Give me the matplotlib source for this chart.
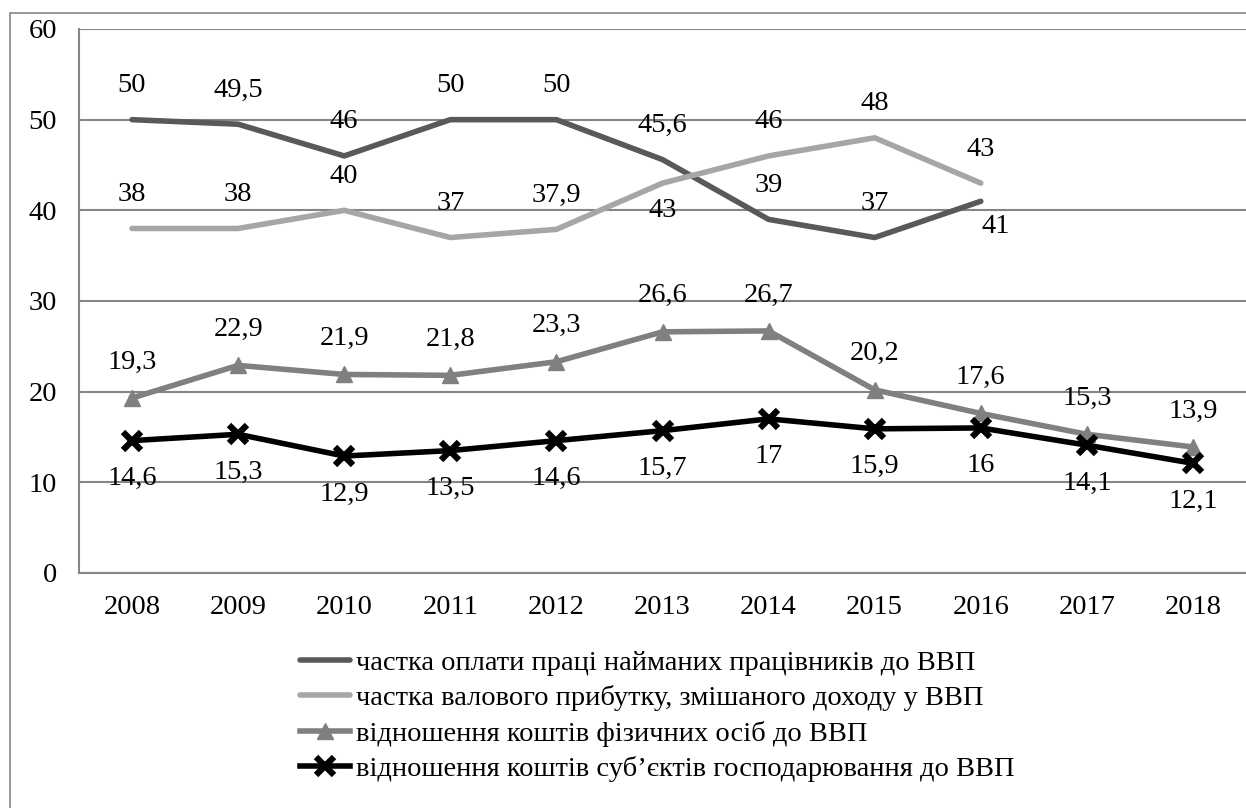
from matplotlib import pyplot as plt
from matplotlib.patches import Rectangle
import numpy as np

plt.rcParams['font.family'] = ['Liberation Serif', 'DejaVu Serif']

years = ['2008', '2009', '2010', '2011', '2012', '2013', '2014', '2015', '2016', '2017', '2018']
wages = [50, 49.5, 46, 50, 50, 45.6, 39, 37, 41]
profit = [38, 38, 40, 37, 37.9, 43, 46, 48, 43]
persons = [19.3, 22.9, 21.9, 21.8, 23.3, 26.6, 26.7, 20.2, 17.6, 15.3, 13.9]
business = [14.6, 15.3, 12.9, 13.5, 14.6, 15.7, 17, 15.9, 16, 14.1, 12.1]

names = ['частка оплати праці найманих працівників до ВВП',
         'частка валового прибутку, змішаного доходу у ВВП',
         'відношення коштів фізичних осіб до ВВП',
         'відношення коштів суб’єктів господарювання до ВВП']

# label offsets in pixels (dx, dy)
wages_off = [(0, 34)] * 8 + [(15, -25)]
profit_off = [(0, 34)] * 5 + [(0, -27)] + [(0, 34)] * 3
persons_off = [(0, 36)] * 11
business_off = [(0, -38)] * 11

fig = plt.figure(figsize=(12.46, 8.08), dpi=100)
W, H = 1246, 808
ax = fig.add_axes([79 / W, 1 - 573 / H, (W - 79) / W, (573 - 29) / H])

x = np.arange(len(years))
l1, = ax.plot(x[:len(wages)], wages, color='#595959', lw=4, solid_capstyle='round', zorder=3)
l2, = ax.plot(x[:len(profit)], profit, color='#a6a6a6', lw=4, solid_capstyle='round', zorder=3)
l3, = ax.plot(x, persons, color='#808080', lw=4, marker='^', ms=12, zorder=3)
l4, = ax.plot(x, business, color='black', lw=4, marker='x', ms=13, mew=4.5, zorder=4)

fs = 20.5
for vals, offs in [(wages, wages_off), (profit, profit_off), (persons, persons_off), (business, business_off)]:
    for i, v in enumerate(vals):
        ax.annotate(f"{v:g}".replace('.', ','), (x[i], v), xytext=offs[i], textcoords='offset pixels',
                    ha='center', va='center', fontsize=fs, color='black', zorder=5)

ax.set_xlim(-0.5, len(years) - 0.5)
ax.set_ylim(0, 60)
ax.set_yticks(range(0, 61, 10))
ax.set_xticks(x)
ax.set_xticklabels(years)
ax.tick_params(axis='both', length=0, labelsize=fs)
ax.tick_params(axis='y', pad=16)
ax.tick_params(axis='x', pad=16)
ax.grid(axis='y', color='#868686', lw=1.5)
ax.set_axisbelow(True)
for s in ['top', 'right']:
    ax.spines[s].set_visible(False)
for s in ['left', 'bottom']:
    ax.spines[s].set_color('#868686')
    ax.spines[s].set_linewidth(1.5)

# outer chart frame
fig.patches.append(Rectangle((10 / W, -0.01), 1.0, 1 - 13 / H + 0.01, transform=fig.transFigure,
                             fill=False, edgecolor='#868686', lw=1.2))

fig.legend([l1, l2, l3, l4], names, loc='upper left', bbox_to_anchor=(300 / W, 1 - 650 / H),
           frameon=False, fontsize=fs, handlelength=1.75, handletextpad=0.2, borderpad=0,
           borderaxespad=0, labelspacing=0.33)

fig.savefig('out.png', dpi=100)
